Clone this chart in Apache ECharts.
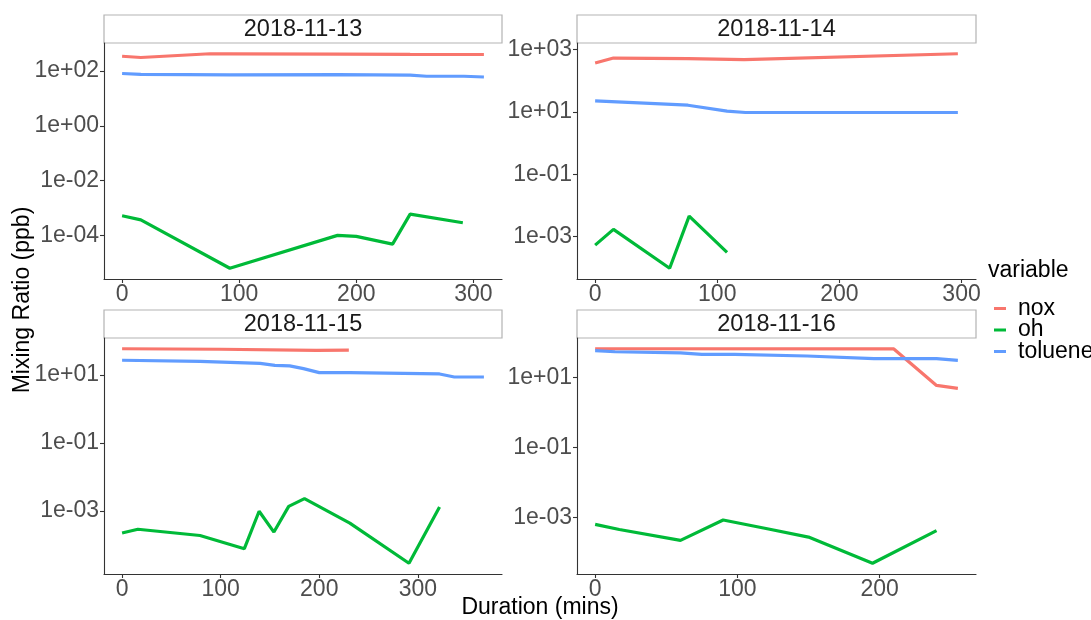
<!DOCTYPE html>
<html><head><meta charset="utf-8">
<script src="https://cdn.jsdelivr.net/npm/echarts@6/dist/echarts.min.js"></script>
<style>html,body{margin:0;padding:0;background:#fff}#c{width:1091px;height:620px}</style>
</head><body><div id="c"></div>
<script>
// ---- data ----
const panelTitles = ['2018-11-13', '2018-11-14', '2018-11-15', '2018-11-16'];
const variables = ['nox', 'oh', 'toluene'];

// 2018-11-13
const p1NoxX = [0, 16, 75, 92, 184, 246, 309];
const p1NoxY = [350, 315, 432, 430, 418, 410, 405];
const p1OhX  = [0, 16, 92, 184, 200, 231, 246, 291];
const p1OhY  = [5.2e-4, 3.7e-4, 6.3e-6, 1.0e-4, 9.2e-5, 4.8e-5, 6.0e-4, 2.9e-4];
const p1TolX = [0, 16, 92, 184, 246, 260, 292, 309];
const p1TolY = [82, 76, 73, 74, 72, 65, 65, 61];

// 2018-11-14
const p2NoxX = [0, 15, 76, 122, 297];
const p2NoxY = [370, 530, 505, 470, 730];
const p2OhX  = [0, 15, 61, 77, 108];
const p2OhY  = [5.3e-4, 1.7e-3, 9.6e-5, 4.5e-3, 3.1e-4];
const p2TolX = [0, 76, 108, 123, 297];
const p2TolY = [22.3, 16.3, 10.5, 9.5, 9.5];

// 2018-11-15
const p3NoxX = [0, 100, 197, 230];
const p3NoxY = [59, 57, 53, 54];
const p3OhX  = [0, 16, 79, 124, 139, 154, 169, 185, 231, 291, 322];
const p3OhY  = [2.25e-4, 2.9e-4, 1.9e-4, 7.8e-5, 9.8e-4, 2.4e-4, 1.37e-3, 2.3e-3, 4.4e-4, 2.9e-5, 1.3e-3];
const p3TolX = [0, 79, 140, 155, 170, 184, 200, 231, 322, 337, 367];
const p3TolY = [27, 25.2, 22, 19.2, 18.4, 15.3, 11.7, 11.7, 10.7, 8.7, 8.7];

// 2018-11-16
const p4NoxX = [0, 210, 240, 255];
const p4NoxY = [67, 66, 6.0, 4.95];
const p4OhX  = [0, 17, 60, 90, 121, 150, 195, 240];
const p4OhY  = [6.45e-4, 4.6e-4, 2.25e-4, 8.6e-4, 4.85e-4, 2.8e-4, 5.0e-5, 4.3e-4];
const p4TolX = [0, 14, 60, 75, 98, 149, 196, 240, 255];
const p4TolY = [59, 55, 50.7, 46.4, 46, 41.6, 34.9, 34.9, 31.3];

// tick labels (x in mins, y as decade exponents)
const p1XTicks = [0, 100, 200, 300];
const p2XTicks = [0, 100, 200, 300];
const p3XTicks = [0, 100, 200, 300];
const p4XTicks = [0, 100, 200];
const p1YTicks = [-4, -2, 0, 2];
const p2YTicks = [-3, -1, 1, 3];
const p3YTicks = [-3, -1, 1];
const p4YTicks = [-3, -1, 1];

// ---- build ----
const panelData = [
  {nox: [p1NoxX, p1NoxY], oh: [p1OhX, p1OhY], toluene: [p1TolX, p1TolY], xt: p1XTicks, yt: p1YTicks},
  {nox: [p2NoxX, p2NoxY], oh: [p2OhX, p2OhY], toluene: [p2TolX, p2TolY], xt: p2XTicks, yt: p2YTicks},
  {nox: [p3NoxX, p3NoxY], oh: [p3OhX, p3OhY], toluene: [p3TolX, p3TolY], xt: p3XTicks, yt: p3YTicks},
  {nox: [p4NoxX, p4NoxY], oh: [p4OhX, p4OhY], toluene: [p4TolX, p4TolY], xt: p4XTicks, yt: p4YTicks}
];
const colors = {nox: '#F8766D', oh: '#00BA38', toluene: '#619CFF'};
const FONT = '"Liberation Sans", Arial, Helvetica, sans-serif';
const FS = 23;

const gridPos = [
  {left: 104, top: 43, width: 398, height: 236},
  {left: 577, top: 43, width: 399, height: 236},
  {left: 104, top: 338, width: 398, height: 236},
  {left: 577, top: 338, width: 399, height: 236}
];
const stripH = 28;

function fmtExp(v) {
  const e = Math.round(v);
  return '1e' + (e < 0 ? '-' : '+') + String(Math.abs(e)).padStart(2, '0');
}

const grids = [], xAxes = [], yAxes = [], series = [], graphics = [];
panelData.forEach((p, i) => {
  let xs = [], ys = [];
  variables.forEach(v => {
    xs = xs.concat(p[v][0]);
    ys = ys.concat(p[v][1].map(Math.log10));
  });
  const xmin = Math.min(...xs), xmax = Math.max(...xs);
  const ymin = Math.min(...ys), ymax = Math.max(...ys);
  const xe = (xmax - xmin) * 0.05, ye = (ymax - ymin) * 0.05;
  const g = gridPos[i];
  grids.push({left: g.left, top: g.top, width: g.width, height: g.height, containLabel: false});
  xAxes.push({
    type: 'value', gridIndex: i, min: xmin - xe, max: xmax + xe,
    axisLine: {show: true, onZero: false, lineStyle: {color: '#333', width: 1.1}},
    axisTick: {show: true, length: 4, lineStyle: {color: '#333', width: 1.1}, customValues: p.xt},
    axisLabel: {customValues: p.xt, color: '#4D4D4D', fontSize: FS, fontFamily: FONT, margin: 4,
      formatter: v => String(Math.round(v))},
    splitLine: {show: false}
  });
  yAxes.push({
    type: 'value', gridIndex: i, min: ymin - ye, max: ymax + ye,
    axisLine: {show: true, onZero: false, lineStyle: {color: '#333', width: 1.1}},
    axisTick: {show: true, length: 4, lineStyle: {color: '#333', width: 1.1}, customValues: p.yt},
    axisLabel: {customValues: p.yt, color: '#4D4D4D', fontSize: FS, fontFamily: FONT, margin: 5,
      formatter: fmtExp},
    splitLine: {show: false}
  });
  variables.forEach(v => {
    const [vx, vy] = p[v];
    series.push({
      name: v, type: 'line', xAxisIndex: i, yAxisIndex: i,
      data: vx.map((x, k) => [x, Math.log10(vy[k])]),
      showSymbol: false, symbol: 'none',
      lineStyle: {color: colors[v], width: 3.2},
      itemStyle: {color: colors[v]},
      animation: false
    });
  });
  graphics.push({
    type: 'rect', shape: {x: g.left, y: g.top - stripH, width: g.width, height: stripH},
    style: {fill: '#fff', stroke: '#B3B3B3', lineWidth: 1.2}
  });
  graphics.push({
    type: 'text', x: g.left + g.width / 2, y: g.top - stripH / 2 + 1,
    style: {text: panelTitles[i], fill: '#1A1A1A', font: '23.5px ' + FONT, align: 'center', verticalAlign: 'middle'}
  });
});

graphics.push({
  type: 'text', x: 540, y: 608,
  style: {text: 'Duration (mins)', fill: '#000', font: FS + 'px ' + FONT, align: 'center', verticalAlign: 'middle'}
});
graphics.push({
  type: 'text', x: 23, y: 300, rotation: Math.PI / 2,
  style: {text: 'Mixing Ratio (ppb)', fill: '#000', font: FS + 'px ' + FONT, align: 'center', verticalAlign: 'middle'}
});
graphics.push({
  type: 'text', x: 988, y: 271,
  style: {text: 'variable', fill: '#000', font: FS + 'px ' + FONT, align: 'left', verticalAlign: 'middle'}
});

const chart = echarts.init(document.getElementById('c'), null, {renderer: 'canvas'});
chart.setOption({
  backgroundColor: '#fff',
  animation: false,
  grid: grids, xAxis: xAxes, yAxis: yAxes, series: series,
  legend: {
    data: variables, orient: 'vertical', left: 989, top: 292,
    itemWidth: 12, itemHeight: 3, itemGap: -1.5, icon: 'rect',
    textStyle: {fontSize: FS, fontFamily: FONT, color: '#000', lineHeight: 21, padding: [0, 0, 0, 7]},
    selectedMode: false
  },
  graphic: graphics
});
</script>
</body></html>
